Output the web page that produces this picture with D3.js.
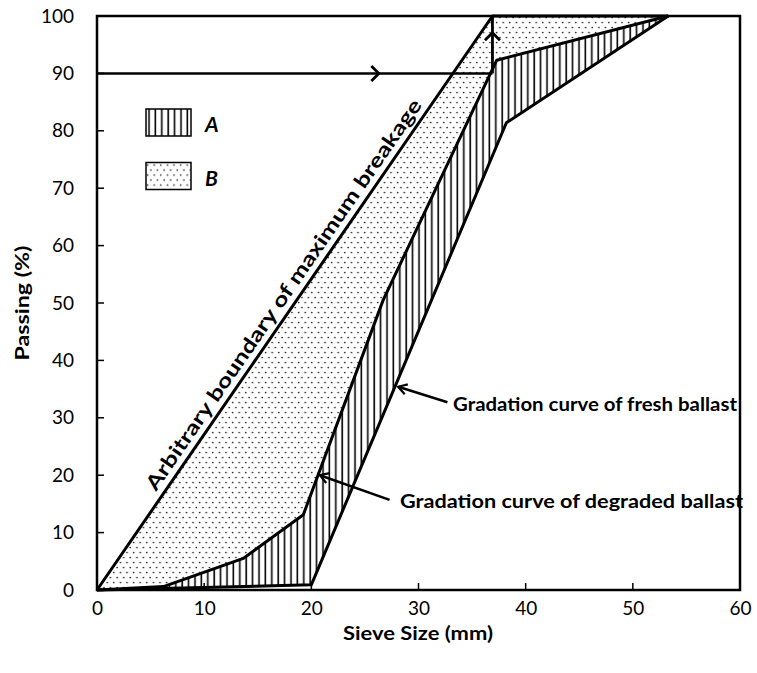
<!DOCTYPE html>
<html lang="en">
<head>
  <meta charset="utf-8">
  <script src="https://d3js.org/d3.v7.min.js"></script>
  <style>
    body { margin: 0; background: #fff; }
    text { font-family: Lato, "Open Sans", sans-serif; fill: #000; }
    .tick text { font-size: 19px; }
    .lbl { font-weight: bold; }
  </style>
</head>
<body>
  <script>
    // gradation curves (sieve size mm, passing %)
    var sieveFresh = [0, 20, 38.2, 53.3];
    var passFresh = [0, 0.9, 81.4, 100];

    var sieveDegraded = [0, 6.2, 13.65, 19.25, 26.7, 37.3, 53.3];
    var passDegraded = [0, 0.6, 5.5, 13.1, 50.5, 92.3, 100];

    var sieveBoundary = [0, 36.9, 53.3];
    var passBoundary = [0, 100, 100];

    var xTicks = [0, 10, 20, 30, 40, 50, 60];
    var yTicks = [0, 10, 20, 30, 40, 50, 60, 70, 80, 90, 100];

    var legendNames = ["A", "B"];

    // dimensions
    var dim = {
      width: 757,
      height: 673,
      left: 97,
      right: 740,
      top: 16,
      bottom: 590
    };

    var svg = d3.select("body")
      .append("svg")
      .attr("width", dim.width)
      .attr("height", dim.height);

    var x = d3.scaleLinear().domain([0, 60]).range([dim.left, dim.right]);
    var y = d3.scaleLinear().domain([0, 100]).range([dim.bottom, dim.top]);

    // fill patterns
    var defs = svg.append("defs");

    var hatch = defs.append("pattern")
      .attr("id", "hatch")
      .attr("patternUnits", "userSpaceOnUse")
      .attr("width", 6.4)
      .attr("height", 10);
    hatch.append("rect").attr("width", 6.4).attr("height", 10).attr("fill", "#fff");
    hatch.append("line")
      .attr("x1", 3).attr("x2", 3).attr("y1", 0).attr("y2", 10)
      .attr("stroke", "#000").attr("stroke-width", 1.6);

    var dots = defs.append("pattern")
      .attr("id", "dots")
      .attr("patternUnits", "userSpaceOnUse")
      .attr("width", 6.6)
      .attr("height", 10);
    dots.append("rect").attr("width", 6.6).attr("height", 10).attr("fill", "#fff");
    dots.append("circle").attr("cx", 1.6).attr("cy", 2.5).attr("r", 0.85).attr("fill", "#222");
    dots.append("circle").attr("cx", 4.9).attr("cy", 7.5).attr("r", 0.85).attr("fill", "#222");

    function pts(xs, ys) {
      return xs.map(function(d, i) { return [x(d), y(ys[i])]; });
    }

    var line = d3.line();

    var fresh = pts(sieveFresh, passFresh);
    var degraded = pts(sieveDegraded, passDegraded);
    var boundary = pts(sieveBoundary, passBoundary);

    // area B: between boundary and degraded curve
    svg.append("path")
      .attr("d", line(boundary.concat(degraded.slice().reverse())) + "Z")
      .attr("fill", "url(#dots)");

    // area A: between degraded and fresh curve
    svg.append("path")
      .attr("d", line(degraded.concat(fresh.slice().reverse())) + "Z")
      .attr("fill", "url(#hatch)");

    // axes
    var xAxis = d3.axisBottom(x).tickValues(xTicks).tickSize(0).tickPadding(12);
    var gx = svg.append("g")
      .attr("transform", "translate(0," + dim.bottom + ")")
      .call(xAxis);
    gx.select(".domain").remove();

    var yAxis = d3.axisLeft(y).tickValues(yTicks).tickSize(0).tickPadding(23);
    var gy = svg.append("g")
      .attr("transform", "translate(" + dim.left + ",0)")
      .call(yAxis);
    gy.select(".domain").remove();

    // inner tick marks
    svg.selectAll(".xt")
      .data(xTicks.slice(1, -1))
      .enter()
      .append("line")
      .attr("x1", function(d) { return x(d); })
      .attr("x2", function(d) { return x(d); })
      .attr("y1", dim.bottom)
      .attr("y2", dim.bottom - 7)
      .attr("stroke", "#000").attr("stroke-width", 1.5);

    svg.selectAll(".yt")
      .data(yTicks.slice(1, -1))
      .enter()
      .append("line")
      .attr("x1", dim.left)
      .attr("x2", dim.left + 7)
      .attr("y1", function(d) { return y(d); })
      .attr("y2", function(d) { return y(d); })
      .attr("stroke", "#000").attr("stroke-width", 1.5);

    // curves
    [fresh, degraded, boundary].forEach(function(p) {
      svg.append("path")
        .attr("d", line(p))
        .attr("fill", "none")
        .attr("stroke", "#000")
        .attr("stroke-width", 3)
        .attr("stroke-linejoin", "round");
    });

    // frame
    svg.append("rect")
      .attr("x", dim.left)
      .attr("y", dim.top)
      .attr("width", dim.right - dim.left)
      .attr("height", dim.bottom - dim.top)
      .attr("fill", "none")
      .attr("stroke", "#000")
      .attr("stroke-width", 2.5);

    // 90 % arrow to the boundary, then up to 100 %
    function chevron(cx, cy, dir) {
      var s = 7.5;
      var p;
      if (dir === "right") p = [[cx - s, cy - s], [cx, cy], [cx - s, cy + s]];
      else p = [[cx - s, cy + s], [cx, cy], [cx + s, cy + s]];
      svg.append("path")
        .attr("d", line(p))
        .attr("fill", "none")
        .attr("stroke", "#000")
        .attr("stroke-width", 2.8);
    }

    svg.append("line")
      .attr("x1", x(0)).attr("x2", x(36.9))
      .attr("y1", y(90)).attr("y2", y(90))
      .attr("stroke", "#000").attr("stroke-width", 2.5);
    chevron(x(26.3), y(90), "right");

    svg.append("line")
      .attr("x1", x(36.9)).attr("x2", x(36.9))
      .attr("y1", y(90)).attr("y2", y(100))
      .attr("stroke", "#000").attr("stroke-width", 2.8);
    chevron(x(36.9), y(97.1), "up");

    // label arrows
    function pointer(x1, y1, x2, y2) {
      var a = Math.atan2(y(y2) - y(y1), x(x2) - x(x1));
      var s = 10, w = 0.55;
      var tx = x(x2), ty = y(y2);
      svg.append("line")
        .attr("x1", x(x1)).attr("y1", y(y1))
        .attr("x2", tx).attr("y2", ty)
        .attr("stroke", "#000").attr("stroke-width", 2.5);
      svg.append("path")
        .attr("d", line([
          [tx - s * Math.cos(a - w), ty - s * Math.sin(a - w)],
          [tx, ty],
          [tx - s * Math.cos(a + w), ty - s * Math.sin(a + w)]
        ]))
        .attr("fill", "none")
        .attr("stroke", "#000")
        .attr("stroke-width", 2.2);
    }

    pointer(32.7, 32.7, 28.1, 35.4);
    pointer(27.3, 15.7, 20.8, 20.0);

    svg.append("text")
      .attr("class", "lbl")
      .attr("x", 453).attr("y", 411)
      .attr("font-size", 18)
      .attr("textLength", 284).attr("lengthAdjust", "spacingAndGlyphs")
      .text("Gradation curve of fresh ballast");

    svg.append("text")
      .attr("class", "lbl")
      .attr("x", 400).attr("y", 508)
      .attr("font-size", 18)
      .attr("textLength", 343).attr("lengthAdjust", "spacingAndGlyphs")
      .text("Gradation curve of degraded ballast");

    // rotated label along the boundary line
    var ang = Math.atan2(y(100) - y(0), x(36.9) - x(0)) * 180 / Math.PI;
    svg.append("text")
      .attr("class", "lbl")
      .attr("transform", "translate(156,492) rotate(" + ang + ")")
      .attr("font-size", 20)
      .attr("textLength", 470).attr("lengthAdjust", "spacingAndGlyphs")
      .text("Arbitrary boundary of maximum breakage");

    // legend
    var legendFill = ["url(#hatch)", "url(#dots)"];
    var lg = svg.selectAll(".legend")
      .data(legendNames)
      .enter()
      .append("g")
      .attr("transform", function(d, i) { return "translate(146," + (109 + i * 53.5) + ")"; });
    lg.append("rect")
      .attr("width", 45).attr("height", 27)
      .attr("fill", function(d, i) { return legendFill[i]; })
      .attr("stroke", "#000").attr("stroke-width", 1.5);
    lg.append("text")
      .attr("x", 59).attr("y", 23)
      .attr("font-size", 21)
      .attr("font-weight", "bold")
      .attr("font-style", "italic")
      .text(function(d) { return d; });

    // axis titles
    svg.append("text")
      .attr("class", "lbl")
      .attr("x", 418).attr("y", 640)
      .attr("text-anchor", "middle")
      .attr("font-size", 19)
      .attr("textLength", 150).attr("lengthAdjust", "spacingAndGlyphs")
      .text("Sieve Size (mm)");

    svg.append("text")
      .attr("class", "lbl")
      .attr("transform", "translate(29,303) rotate(-90)")
      .attr("text-anchor", "middle")
      .attr("font-size", 19)
      .attr("textLength", 115).attr("lengthAdjust", "spacingAndGlyphs")
      .text("Passing (%)");
  </script>
</body>
</html>
